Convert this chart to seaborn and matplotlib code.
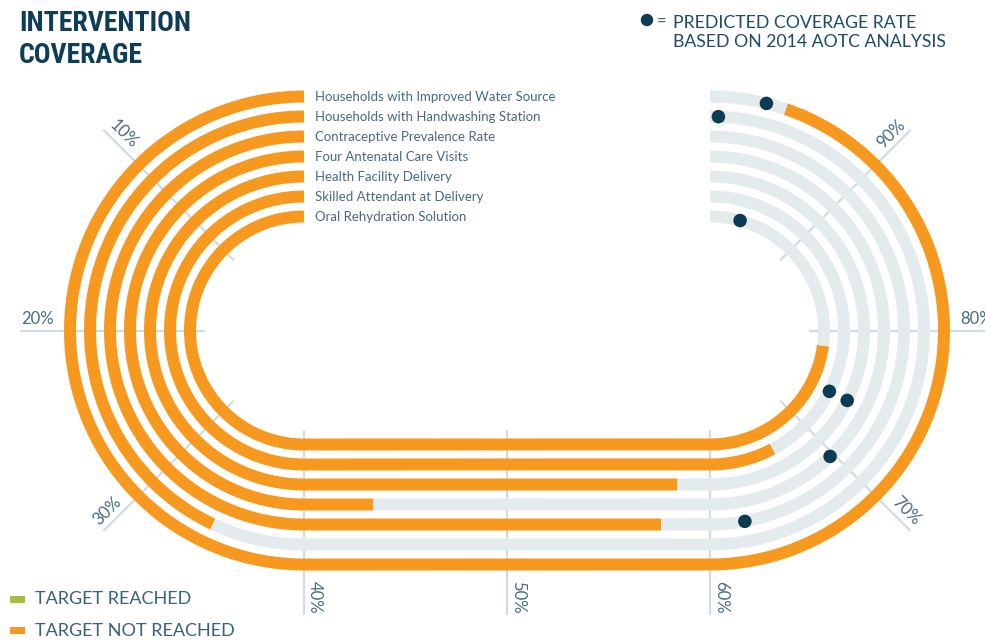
import numpy as np
import pandas as pd
import matplotlib.pyplot as plt
import seaborn as sns
from matplotlib import font_manager

# --- data ---
indicators = [
    "Households with Improved Water Source",
    "Households with Handwashing Station",
    "Contraceptive Prevalence Rate",
    "Four Antenatal Care Visits",
    "Health Facility Delivery",
    "Skilled Attendant at Delivery",
    "Oral Rehydration Solution",
]
coverage = [95.8, 34.4, 57.6, 43.4, 58.4, 66.2, 78.3]
predicted = [96.9, 99.5, 62.3, 69.7, 74.0, 74.0, 96.6]
target_reached = [False, False, False, False, False, False, False]
tick_pcts = [10, 20, 30, 40, 50, 60, 70, 80, 90]
tick_labels = ["10%", "20%", "30%", "40%", "50%", "60%", "70%", "80%", "90%"]

# --- colours ---
ORANGE = "#F7991F"
GREEN = "#A9BE38"
TRACK = "#E3EBED"
NAVY = "#0D3B53"
GUIDE = "#CFDCE1"
TEXT = "#476B7E"
DARK = "#0F3D57"

# --- track geometry (pixel space) ---
CY = 330.5
CXL, CXR = 304, 710
R_OUTER, STEP = 234, 20
LW = 12 * 72 / 100  # 12 px stroke


def track_xy(p, r):
    p = np.asarray(p, dtype=float)
    x = np.empty_like(p)
    y = np.empty_like(p)
    left = p <= 40
    mid = (p > 40) & (p <= 60)
    right = p > 60
    t = p[left] / 40 * np.pi
    x[left] = CXL - r * np.sin(t)
    y[left] = CY - r * np.cos(t)
    x[mid] = CXL + (p[mid] - 40) / 20 * (CXR - CXL)
    y[mid] = CY + r
    t = (p[right] - 60) / 40 * np.pi
    x[right] = CXR + r * np.sin(t)
    y[right] = CY + r * np.cos(t)
    return x, y


def radial(p):
    # outward unit vector and centre for the guide at percent p
    if p <= 40:
        t = p / 40 * np.pi
        return np.array([-np.sin(t), -np.cos(t)]), np.array([CXL, CY])
    if p >= 60:
        t = (p - 60) / 40 * np.pi
        return np.array([np.sin(t), np.cos(t)]), np.array([CXR, CY])
    return np.array([0.0, 1.0]), np.array([CXL + (p - 40) / 20 * (CXR - CXL), CY])


def pick_font(names):
    have = {f.name for f in font_manager.fontManager.ttflist}
    for n in names:
        if n in have:
            return n
    return "DejaVu Sans"


sns.set_theme(style="white")
body_font = pick_font(["Lato", "Open Sans", "DejaVu Sans"])
title_font = pick_font(["Roboto Condensed", "Liberation Sans Narrow", "Roboto", "DejaVu Sans"])
plt.rcParams["font.family"] = [body_font, "DejaVu Sans"]

# build segments table
rows = []
for i, (name, val) in enumerate(zip(indicators, coverage)):
    r = R_OUTER - i * STEP
    for kind, a, b in [("done", 0, val), ("rest", val, 100)]:
        ps = np.linspace(a, b, 600)
        xs, ys = track_xy(ps, r)
        status = ("reached" if target_reached[i] else "not") if kind == "done" else "rest"
        for x, y in zip(xs, ys):
            rows.append((f"{i}-{kind}", status, x, y))
segs = pd.DataFrame(rows, columns=["seg", "status", "x", "y"])

dots = pd.DataFrame({"name": indicators, "pred": predicted,
                     "r": [R_OUTER - i * STEP for i in range(len(indicators))]})
dx, dy = [], []
for p, r in zip(dots["pred"], dots["r"]):
    x, y = track_xy([p], r)
    dx.append(x[0]); dy.append(y[0])
dots["x"], dots["y"] = dx, dy

fig = plt.figure(figsize=(9.85, 6.41), dpi=100)
ax = fig.add_axes([0, 0, 1, 1])

# radial guides
r_in, r_out = 100, 283
for p, lab in zip(tick_pcts, tick_labels):
    u, c = radial(p)
    p0 = c + u * r_in
    p1 = c + u * r_out
    ax.plot([p0[0], p1[0]], [p0[1], p1[1]], color=GUIDE, lw=1.6, zorder=1)
    # baseline direction: whichever of +/-u points right (or down when vertical)
    if u[0] < -1e-6:
        base, ha = -u, "left"
    else:
        base, ha = u, "right"
    rot = np.degrees(np.arctan2(-base[1], base[0]))
    normal = np.array([base[1], -base[0]])  # screen "up" side of text
    pos = p1 + normal * 3
    ax.text(pos[0], pos[1], lab, rotation=rot, rotation_mode="anchor",
            ha=ha, va="bottom", fontsize=12, color=TEXT, zorder=3)

sns.lineplot(data=segs, x="x", y="y", hue="status", units="seg", estimator=None,
             sort=False, palette={"not": ORANGE, "reached": GREEN, "rest": TRACK},
             linewidth=LW, solid_capstyle="butt", legend=False, ax=ax, zorder=2)

sns.scatterplot(data=dots, x="x", y="y", color=NAVY, s=95, edgecolor="none",
                ax=ax, zorder=4, legend=False)

# indicator labels
for i, name in enumerate(indicators):
    ax.text(CXL + 11, CY - (R_OUTER - i * STEP) + 0.5, name, ha="left", va="center",
            fontsize=9.5, color=TEXT)

ax.set_xlim(0, 985)
ax.set_ylim(641, 0)
ax.axis("off")

# title
for y, line in [(31, "INTERVENTION"), (63, "COVERAGE")]:
    ax.text(19, y, line, ha="left", va="baseline", fontsize=20, fontweight="bold",
            color=DARK, family=[title_font, "DejaVu Sans"])

# predicted legend (top right)
ax.scatter([647], [20], s=80, color=NAVY, edgecolor="none")
ax.text(657, 21, "=", ha="left", va="center", fontsize=12, color=TEXT)
for y, line in [(28, "PREDICTED COVERAGE RATE"), (47, "BASED ON 2014 AOTC ANALYSIS")]:
    ax.text(673, y, line, ha="left", va="baseline", fontsize=12.7, color="#1F4C64")

# status legend (bottom left)
for y, col, lab in [(599, GREEN, "TARGET REACHED"), (630, ORANGE, "TARGET NOT REACHED")]:
    ax.add_patch(plt.Rectangle((10, y - 3.5), 15, 7, color=col, lw=0))
    ax.text(35, y + 0.5, lab, ha="left", va="center", fontsize=13, color="#3B6276")

fig.savefig("out.png", dpi=100)
